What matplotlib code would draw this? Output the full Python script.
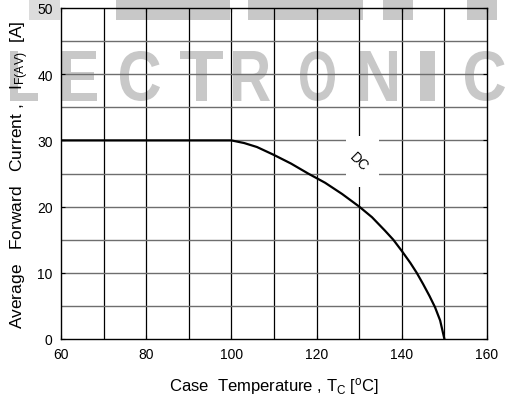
import matplotlib
matplotlib.use("Agg")
import matplotlib.pyplot as plt
from matplotlib.patches import Rectangle, PathPatch
from matplotlib.textpath import TextPath
from matplotlib.font_manager import FontProperties
from matplotlib.transforms import Affine2D, IdentityTransform

plt.rcParams["font.family"] = ["Liberation Sans", "DejaVu Sans"]
plt.rcParams["mathtext.fontset"] = "custom"
plt.rcParams["mathtext.rm"] = "Liberation Sans"
plt.rcParams["mathtext.it"] = "Liberation Sans"

# derating curve
case_temp = [60, 100, 103, 106, 110, 114, 118, 122, 126, 130, 133, 136, 138, 140,
             142, 143.5, 145, 146.5, 147.8, 149, 150]
avg_current = [30, 30, 29.6, 29.0, 27.8, 26.5, 25.0, 23.6, 21.9, 20.0, 18.4, 16.4, 15.0, 13.3,
               11.5, 10.0, 8.3, 6.5, 4.8, 2.8, 0]

x_ticks = [60, 80, 100, 120, 140, 160]
y_ticks = [0, 10, 20, 30, 40, 50]

W, H = 526, 402
fig = plt.figure(figsize=(W / 100, H / 100), dpi=100)
ax = fig.add_axes([61 / W, 1 - 340 / H, 426 / W, 331 / H])

# watermark (image pixel boxes: x0, x1; letters span y 52..102)
wm = "#c8c8c8"
wm_letters = ["L", "E", "C", "T", "R", "O", "N", "I", "C"]
wm_x = [(10, 38), (62, 97), (120, 160), (180, 223), (233, 270),
        (300, 335), (360, 397), (420, 435), (465, 505)]
fp = FontProperties(family="Liberation Sans", weight="bold")
for ch, (x0, x1) in zip(wm_letters, wm_x):
    tp = TextPath((0, 0), ch, size=100, prop=fp)
    bb = tp.get_extents()
    tr = (Affine2D().translate(-bb.x0, -bb.y0)
          .scale((x1 - x0) / bb.width, 50 / bb.height)
          .translate(x0, H - 102))
    p = PathPatch(tr.transform_path(tp), facecolor=wm, edgecolor="none",
                  transform=IdentityTransform(), zorder=-1)
    fig.add_artist(p)
for (x0, x1), c in [((116, 230), wm), ((248, 363), wm), ((383, 413), wm),
                    ((467, 497), wm), ((29, 60), "#dcdcdc")]:
    fig.add_artist(Rectangle((x0, H - 21), x1 - x0, 21, facecolor=c,
                             edgecolor="none", transform=IdentityTransform(), zorder=-1))

ax.set_facecolor("none")
ax.set_xlim(60, 160)
ax.set_ylim(0, 50)
ax.set_xticks(x_ticks)
ax.set_yticks(y_ticks)
for x in range(70, 160, 10):
    ax.axvline(x, color="black", lw=0.9, zorder=1)
for y in range(5, 50, 5):
    ax.axhline(y, color="#6e6e6e", lw=1.0, zorder=1)

ax.plot(case_temp, avg_current, color="black", lw=1.6, zorder=3)

# DC label with white gap in the grid
ax.add_patch(Rectangle((126.9, 23.0), 7.7, 7.7, facecolor="white",
                       edgecolor="none", zorder=2))
ax.text(130.0, 26.9, "DC", rotation=-45, fontsize=10, ha="center", va="center", zorder=4)

ax.tick_params(direction="in", length=3, labelsize=10, top=True, right=True,
               labeltop=False, labelright=False, pad=6)
for s in ax.spines.values():
    s.set_linewidth(1.0)

ax.set_xlabel("Case  Temperature , T$_{\\rm C}$ [$^{\\rm o}$C]", fontsize=12, labelpad=10)
ax.set_ylabel("Average   Forward   Current ,   I$_{\\rm F(AV)}$  [A]", fontsize=12.5, labelpad=4)

fig.savefig("out.png", dpi=100)
